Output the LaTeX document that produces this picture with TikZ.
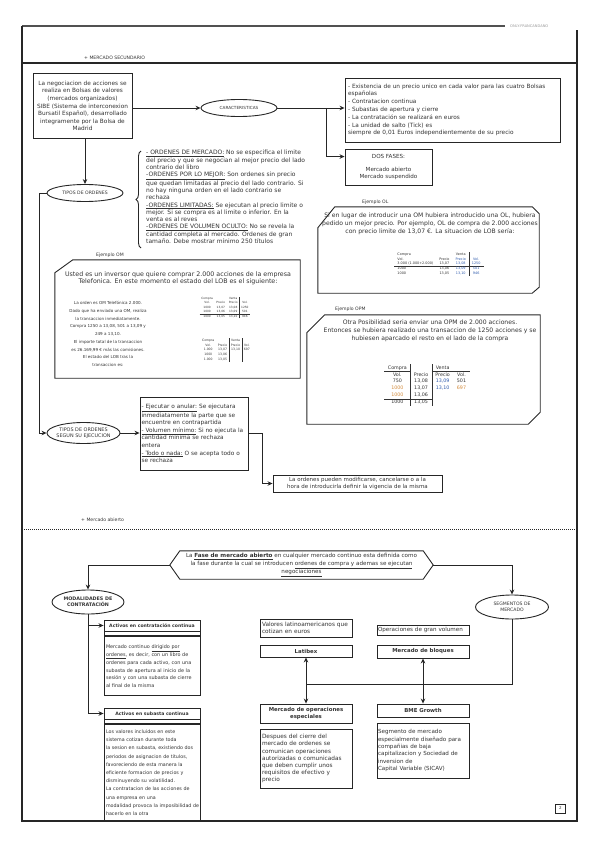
\documentclass[tikz,border=0pt]{standalone}
\usepackage{fontspec}
\setmainfont{DejaVu Sans}
\usetikzlibrary{arrows.meta,shapes.geometric,decorations.pathreplacing,calc}
\definecolor{ink}{HTML}{262626}
\definecolor{txt}{HTML}{333333}
\definecolor{tblue}{HTML}{2E5AAC}
\definecolor{torange}{HTML}{D38B3C}
\newcommand{\myfs}[2]{\fontsize{#1}{#2}\selectfont}
\newlength\jw
\setlength\jw{91pt}
\newcommand{\jline}[1]{\makebox[\jw][s]{#1}\\}
\setlength\arrayrulewidth{0.6pt}
\tikzset{
  base/.style={inner sep=0pt, text=txt, font=\myfs{5.8}{7.6}},
  box/.style={base, draw=ink, line width=0.9pt, rectangle},
  oval/.style={draw=ink, line width=0.9pt, ellipse, inner sep=0pt},
  ln/.style={draw=ink, line width=0.9pt},
  frame/.style={draw=ink, line width=1.1pt},
  arr/.style={ln, -{Stealth[length=5pt,width=4.5pt]}},
  dbl/.style={ln, {Stealth[length=5pt,width=4.5pt]}-{Stealth[length=5pt,width=4.5pt]}},
  lbl/.style={base, anchor=west, font=\myfs{4.6}{5.5}},
  ttl/.style={box, font=\bfseries\myfs{4.6}{5.5}},
}
\begin{document}
\begin{tikzpicture}[x=1pt,y=-1pt]
\useasboundingbox (0,0) rectangle (600,848);
% ---------- frame and header
\draw[frame, draw=ink!80] (22,26) -- (505,26);
\node[base, anchor=west, font=\myfs{3.6}{4}, text=black!40] (hdr) at (510,26) {ONLY-FRANCANDANO};
\draw[frame] (22,26) -- (22,821) -- (577,821) -- (577,30);
\node[lbl] (msec) at (84,58) {+ MERCADO SECUNDARIO};
\draw[frame] (22,63) -- (577,63);

% ---------- top left box and characteristics
\node[box, minimum width=99, minimum height=65, align=center] (neg) at (82.5,106)
 {La negociacion de acciones se\\realiza en Bolsas de valores\\(mercados organizados)\\SIBE (Sistema de interconexion\\Bursatil Español), desarrollado\\integramente por la Bolsa de\\Madrid};
\node[oval, minimum width=76, minimum height=17] (car) at (239,108) {};
\node[base, font=\myfs{4.2}{5}] (cart) at (car.center) {CARACTERISTICAS};
\draw[arr] (neg.east |- car.west) -- (car.west);
\coordinate (j1) at (326,108);
\draw[ln] (car.east) -- (j1);
\node[box, minimum width=215, minimum height=64, text width=209, align=left, font=\myfs{5.8}{7.8}] (ex) at (452.5,110)
 {- Existencia de un precio unico en cada valor para las cuatro Bolsas\\españolas\\- Contratacion continua\\- Subastas de apertura y cierre\\- La contratación se realizará en euros\\- La unidad de salto (Tick) es\\siempre de 0,01 Euros independientemente de su precio};
\draw[arr] (j1) -- (ex.west |- j1);
\node[box, minimum width=87, minimum height=36, align=center, font=\myfs{5.6}{7.2}] (dos) at (388.5,167) {DOS FASES:\\[6pt]Mercado abierto\\Mercado suspendido};
\draw[arr] (j1) |- ($(dos.north west)+(0,8)$);

% ---------- tipos de ordenes
\node[oval, minimum width=76, minimum height=17] (tip) at (85,193) {};
\node[base, font=\myfs{4.6}{5.5}] (tipt) at (tip.center) {TIPOS DE ORDENES};
\draw[arr] (tip.north |- neg.south) -- (tip.north);
\draw[ln, decorate, decoration={brace, amplitude=5pt}] (141,248) -- (141,151);
\node[base, anchor=north west, align=left, font=\myfs{6}{7.25}] (ord) at (146,150)
 {\underline{- ORDENES DE MERCADO:} No se especifica el limite\\
del precio y que se negocian al mejor precio del lado\\
contrario del libro\\
\underline{-ORDENES POR LO MEJOR:} Son ordenes sin precio\\
que quedan limitadas al precio del lado contrario. Si\\
no hay ninguna orden en el lado contrario se\\
rechaza\\
\underline{-ORDENES LIMITADAS:} Se ejecutan al precio limite o\\
mejor. Si se compra es al limite o inferior. En la\\
venta es al reves\\
\underline{-ORDENES DE VOLUMEN OCULTO:} No se revela la\\
cantidad completa al mercado. Ordenes de gran\\
tamaño. Debe mostrar mínimo 250 títulos};

% ---------- Ejemplo OL
\node[base, minimum width=221, minimum height=86] (ol) at (428.5,250) {};
\draw[ln] ($(ol.north west)+(17,0)$) -- ($(ol.north east)+(-7,0)$) -- ($(ol.north east)+(0,7)$) -- ($(ol.south east)+(0,-6)$) -- ($(ol.south east)+(-7,0)$) -- (ol.south west) -- ($(ol.north west)+(0,21)$) -- cycle;
\node[lbl] (oll) at (362,202) {Ejemplo OL};
\node[base, align=center, font=\myfs{6.1}{8}] (olt) at (430,224) {Si en lugar de introducir una OM hubiera introducido una OL, hubiera\\pedido un mejor precio. Por ejemplo, OL de compra de 2.000 acciones\\con precio limite de 13,07 €. La situacion de LOB sería:};
\node[base, font=\myfs{3.4}{3.9}] (oltab) at (439,264) {\setlength\tabcolsep{3pt}\renewcommand\arraystretch{1.15}%
\begin{tabular}{lcc|c}
Compra & & Venta & \\
Vol. & Precio & \textcolor{tblue}{Precio} & \textcolor{tblue}{Vol.}\\
3.000 (1.000+2.000) & 13,07 & \textcolor{tblue}{13,08} & \textcolor{tblue}{1250}\\ \hline
1000 & 13,06 & \textcolor{tblue}{13,09} & \textcolor{tblue}{501}\\
1000 & 13,05 & \textcolor{tblue}{13,10} & \textcolor{tblue}{946}
\end{tabular}};

% ---------- Ejemplo OM
\node[base, minimum width=245, minimum height=118] (om) at (177.5,319) {};
\draw[ln] ($(om.north west)+(18,0)$) -- (om.north east) -- (om.south east) -- (om.south west) -- ($(om.north west)+(0,13)$) -- cycle;
\node[lbl] (oml) at (96,255) {Ejemplo OM};
\node[base, align=center, font=\myfs{6.3}{7.5}] (omt) at (178,278.5) {Usted es un inversor que quiere comprar 2.000 acciones de la empresa\\Telefonica. En este momento el estado del LOB es el siguiente:};
\node[base, align=center, font=\myfs{4.1}{7.7}] (oms) at (108,334) {La orden es OM Telefónica 2.000.\\Dado que ha enviado una OM, realiza\\la transaccion inmediatamente.\\Compra 1250 a 13,08, 501 a 13,09 y\\249 a 13,10.\\El importe total de la transaccion\\es 26.169,99 € más las comisiones.\\El estado del LOB tras la\\transaccion es:};
\node[base, font=\myfs{2.9}{3.4}] (omtab1) at (225,307.5) {\setlength\tabcolsep{1.8pt}\renewcommand\arraystretch{1.25}%
\begin{tabular}{ccc|c}
Compra & & Venta & \\
Vol. & Precio & Precio & Vol.\\
1000 & 13,07 & 13,08 & 1250\\
1000 & 13,06 & 13,09 & 501\\ \hline
1000 & 13,05 & 13,10 & 946
\end{tabular}};
\node[base, font=\myfs{3.1}{3.6}] (omtab2) at (226,350) {\setlength\tabcolsep{1.8pt}\renewcommand\arraystretch{1.3}%
\begin{tabular}{cc|c|c}
Compra & & Venta & \\
Vol. & Precio & Precio & Vol.\\
1.000 & 13,07 & 13,10 & 697\\
1000 & 13,06 & & \\
1.000 & 13,05 & &
\end{tabular}};

% ---------- Ejemplo OPM
\node[base, minimum width=233, minimum height=109] (opa) at (423.5,369.5) {};
\draw[ln] ($(opa.north west)+(18,0)$) -- (opa.north east) -- ($(opa.south east)+(0,-12)$) -- ($(opa.south east)+(-12,0)$) -- (opa.south west) -- ($(opa.north west)+(0,18)$) -- cycle;
\node[lbl] (opal) at (335,309) {Ejemplo OPM};
\node[base, align=center, font=\myfs{6.1}{8}] (opat) at (430,331) {Otra Posibilidad seria enviar una OPM de 2.000 acciones.\\Entonces se hubiera realizado una transaccion de 1250 acciones y se\\hubiesen aparcado el resto en el lado de la compra};
\node[base, font=\myfs{4.8}{5.5}] (opatab) at (427,385) {\setlength\tabcolsep{3.5pt}\renewcommand\arraystretch{1.25}%
\begin{tabular}{c|c|cc}
Compra & & Venta & \\ \cline{1-1}\cline{3-4}
Vol. & Precio & Precio & Vol.\\
750 & 13,08 & \textcolor{tblue}{13,09} & 501\\
\textcolor{torange}{1000} & 13,07 & \textcolor{tblue}{13,10} & \textcolor{torange}{697}\\
\textcolor{torange}{1000} & 13,06 & & \\ \cline{1-2}
1000 & 13,05 & &
\end{tabular}};

% ---------- tipos segun ejecucion
\node[oval, minimum width=73, minimum height=21] (seg) at (83.5,433) {};
\node[base, align=center, font=\myfs{4.9}{6}] (segt) at (seg.center) {TIPOS DE ORDENES\\SEGUN SU EJECUCION};
\draw[arr] (tip.west) -- (39,193) -- (39,433) -- (seg.west);
\node[box, minimum width=108, minimum height=73, text width=105, align=left, font=\myfs{5.8}{7.6}] (ej) at (194,433.5) {\underline{- Ejecutar o anular:} Se ejecutara\\inmediatamente la parte que se\\encuentre en contrapartida\\\underline{- Volumen mínimo:} Si no ejecuta la\\cantidad mínima se rechaza\\entera\\\underline{- Todo o nada:} O se acepta todo o\\se rechaza};
\draw[arr] (seg.east) -- (ej.west |- seg.east);
\node[box, minimum width=169, minimum height=17, align=center, font=\myfs{5.5}{7}] (lo) at (357.5,483.5) {La ordenes pueden modificarse, cancelarse o a la\\hora de introducirla definir la vigencia de la misma};
\draw[arr] (ej.east) -- ++(14,0) |- (lo.west);

% ---------- mercado abierto
\node[lbl] (mab) at (81,520) {+ Mercado abierto};
\draw[ink, line width=0.8pt, dash pattern=on 1pt off 1pt] (22,529) -- (577,529);
\node[base, minimum width=243, minimum height=28, align=center, font=\myfs{5.6}{8}] (hx) at (301.5,565) {La \textbf{\underline{Fase de mercado abierto}} en cualquier mercado continuo esta definida como\\la fase durante la cual se introducen \underline{ordenes de compra y ademas se ejecutan}\\\underline{negociaciones}};
\coordinate (hxL) at ($(hx.west)+(-10,0)$);
\coordinate (hxR) at ($(hx.east)+(10,0)$);
\draw[ln] (hx.north west) -- (hx.north east) -- (hxR) -- (hx.south east) -- (hx.south west) -- (hxL) -- cycle;

\node[oval, minimum width=72, minimum height=24] (mod) at (88,602) {};
\node[base, align=center, font=\bfseries\myfs{4.8}{6}] (modt) at (mod.center) {MODALIDADES DE\\CONTRATACIÓN};
\draw[arr] (hxL) -| (mod.north);
\node[oval, minimum width=73, minimum height=24] (sgm) at (512,607) {};
\node[base, align=center, font=\myfs{4.6}{6}] (sgmt) at (sgm.center) {SEGMENTOS DE\\MERCADO};
\draw[arr] (hxR) -| (sgm.north);

% ---------- modalidades
\node[ttl, minimum width=96, minimum height=11] (t1) at (152,625.5) {Activos en contratación continua};
\node[box, minimum width=96, minimum height=4, anchor=north] (b1) at (t1.south) {};
\node[box, minimum width=96, minimum height=59, anchor=north, text width=92, align=left, font=\myfs{4.9}{7.8}] (c1) at (b1.south)
 {\jline{Mercado continuo \underline{dirigido por}}\jline{\underline{ordenes}, es decir, con un libro de}\jline{ordenes para cada activo, con una}\jline{subasta de apertura al inicio de la}\jline{sesión y con una subasta de cierre}al final de la misma};
\node[ttl, minimum width=96, minimum height=11] (t2) at (152,713.5) {Activos en subasta continua};
\node[box, minimum width=96, minimum height=4, anchor=north] (b2) at (t2.south) {};
\node[box, minimum width=96, minimum height=96, anchor=north, text width=92, align=left, font=\myfs{4.8}{8.2}] (c2) at (b2.south)
 {\jline{Los valores incluidos en este}\jline{sistema cotizan durante toda}\jline{la sesion en subasta, existiendo dos}\jline{periodos de asignacion de titulos,}\jline{favoreciendo de esta manera la}\jline{eficiente formacion de precios y}\jline{disminuyendo su volatilidad.}\jline{La contratacion de las acciones de}\jline{una empresa en una}\jline{modalidad provoca la imposibilidad de}hacerlo en la otra};
\draw[arr] (mod.south) |- (t2.west);
\draw[arr] (mod.south |- t1.west) -- (t1.west);

% ---------- segmentos
\node[box, minimum width=92, minimum height=18, text width=88, align=left, font=\myfs{5.8}{7}] (val) at (306,628) {Valores latinoamericanos que\\cotizan en euros};
\node[ttl, minimum width=92, minimum height=12, font=\bfseries\myfs{5.4}{6}] (lat) at (306,651) {Latibex};
\node[box, minimum width=92, minimum height=10, text width=90, align=left, font=\myfs{5.6}{6}] (ope) at (423,630) {Operaciones de gran volumen};
\node[ttl, minimum width=92, minimum height=13, font=\bfseries\myfs{5.4}{6}] (blo) at (423,651.5) {Mercado de bloques};
\node[ttl, minimum width=92, minimum height=19, align=center, font=\bfseries\myfs{5.4}{6.8}] (moe) at (306,713.5) {Mercado de operaciones\\especiales};
\node[box, minimum width=92, minimum height=59, text width=88, align=left, font=\myfs{5.8}{7.1}] (moeb) at (306,758.5) {Despues del cierre del\\mercado de ordenes se\\comunican operaciones\\autorizadas o comunicadas\\que deben cumplir unos\\requisitos de efectivo y\\precio};
\node[ttl, minimum width=92, minimum height=13, font=\bfseries\myfs{5.4}{6}] (bme) at (423,710.5) {BME Growth};
\node[box, minimum width=92, minimum height=55, text width=90, align=left, font=\myfs{5.6}{7.3}] (bmeb) at (423,750.5) {Segmento de mercado\\especialmente diseñado para\\compañias de baja\\capitalizacion y Sociedad de\\inversion de\\Capital Variable (SICAV)};
\coordinate (jh) at (512,684);
\draw[ln] (sgm.south) -- (jh) -- (lat.south |- jh);
\draw[dbl] (lat.south) -- (moe.north);
\draw[dbl] (blo.south) -- (bme.north);

\node[box, minimum width=10, minimum height=9, font=\myfs{4}{4}] (pg) at (560.5,808.5) {2};
\end{tikzpicture}
\end{document}
